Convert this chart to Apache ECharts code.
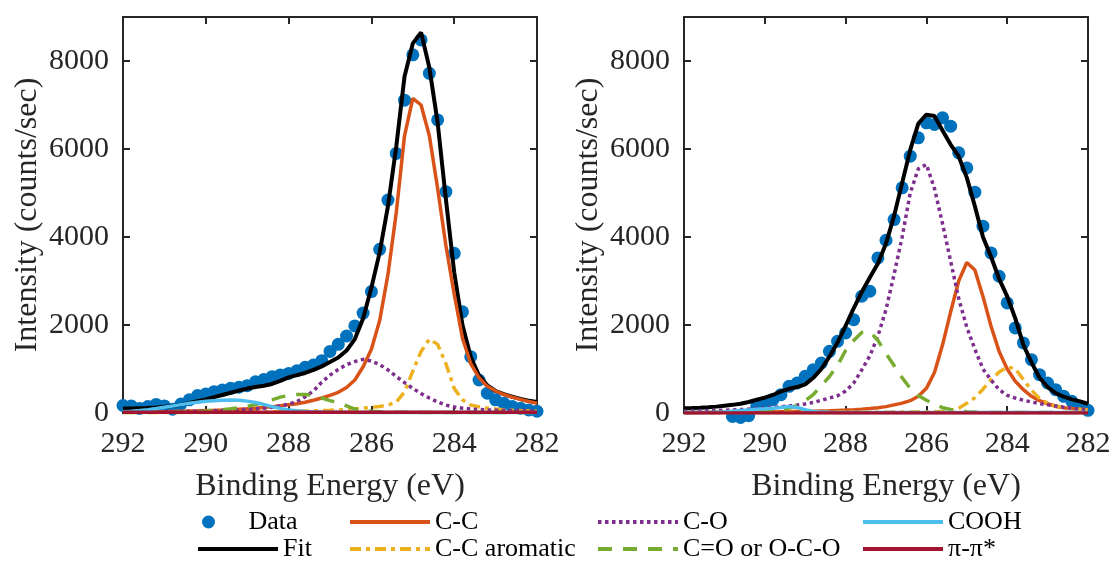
<!DOCTYPE html>
<html><head><meta charset="utf-8">
<script src="https://cdn.jsdelivr.net/npm/echarts@6/dist/echarts.min.js"></script>
<style>html,body{margin:0;padding:0;background:#fff}#c{width:1114px;height:563px}</style>
</head><body><div id="c"></div>
<script>
// Binding energy grid (eV)
const energy = [292.0,291.8,291.6,291.4,291.2,291.0,290.8,290.6,290.4,290.2,290.0,289.8,289.6,289.4,289.2,289.0,288.8,288.6,288.4,288.2,288.0,287.8,287.6,287.4,287.2,287.0,286.8,286.6,286.4,286.2,286.0,285.8,285.6,285.4,285.2,285.0,284.8,284.6,284.4,284.2,284.0,283.8,283.6,283.4,283.2,283.0,282.8,282.6,282.4,282.2,282.0];
const xTicks = [292,290,288,286,284,282];
const yTicks = [0,2000,4000,6000,8000];

// Left panel
const leftData  = [170,160,105,145,195,160,85,205,300,395,430,485,520,560,585,620,710,760,825,865,900,960,1040,1090,1190,1400,1560,1750,1980,2270,2760,3720,4840,5900,7110,8140,8480,7720,6660,5030,3630,2300,1280,750,450,300,220,150,110,70,40];
const leftFit   = [100,105,110,115,125,140,160,190,230,270,310,360,410,460,510,555,590,620,660,730,810,860,910,980,1060,1160,1260,1420,1680,2150,2850,3650,4700,6050,7650,8400,8650,7850,6600,4850,3200,2000,1270,850,630,500,430,370,320,280,250];
const leftCC    = [15,18,21,24,27,30,35,40,45,50,57,63,70,78,88,98,110,125,145,165,190,210,245,290,340,400,470,580,750,1050,1450,2100,3150,4550,6300,7150,7000,6300,5100,3800,2700,1700,1120,800,610,500,420,360,310,260,220];
const leftArom  = [10,10,10,10,10,10,10,12,12,12,14,14,15,16,18,20,22,25,28,32,36,40,45,50,56,62,70,80,95,110,130,150,180,250,480,950,1400,1680,1560,1120,560,300,180,140,110,90,75,65,55,50,45];
const leftCO    = [20,20,22,24,26,28,30,33,36,40,45,50,55,62,70,80,95,110,130,160,200,260,370,500,700,860,990,1100,1170,1220,1180,1100,980,830,690,560,440,340,250,180,135,110,90,80,70,65,62,58,55,53,50];
const leftCdO   = [10,10,12,13,15,17,20,24,28,35,45,60,75,95,120,150,190,240,300,360,400,420,420,400,340,280,230,160,90,60,40,30,22,18,15,13,12,11,11,10,10,10,10,10,10,10,10,10,10,10,10];
const leftCOOH  = [30,40,55,75,100,130,160,190,220,245,265,280,290,295,290,270,240,195,145,105,70,50,35,25,20,18,16,15,14,13,12,12,11,11,11,10,10,10,10,10,10,10,10,10,10,10,10,10,10,10,10];
const leftPi    = [15,15,15,15,15,15,15,15,15,15,15,15,15,15,15,15,15,15,15,15,15,15,15,15,15,15,15,15,15,15,15,15,15,15,15,15,15,15,15,15,15,15,15,15,15,15,15,15,15,15,15];

// Right panel
const rightData = [null,null,null,null,null,null,-80,-100,-60,150,227,303,417,606,682,834,985,1137,1402,1630,1819,2122,2653,2767,3525,3926,4396,5117,5837,6254,6595,6557,6708,6519,5912,5571,5018,4245,3638,3108,2501,1933,1592,1213,872,682,530,379,265,152,61];
const rightFit  = [110,115,122,130,145,165,185,210,250,300,350,410,490,550,590,650,800,1000,1280,1600,1980,2380,2750,3080,3400,3850,4480,5230,5980,6580,6780,6750,6420,6100,5830,5350,4700,4000,3550,3050,2650,2150,1550,1150,800,590,450,370,310,265,210];
const rightCC   = [12,13,14,15,16,17,18,20,22,24,26,28,30,32,34,36,40,45,50,58,66,76,88,102,120,145,185,225,280,380,560,920,1550,2300,3000,3420,3250,2650,1970,1400,1000,720,530,380,280,210,150,120,100,85,75];
const rightArom = [10,10,10,10,10,10,10,10,10,10,11,11,11,12,12,12,13,13,14,14,15,15,16,17,18,19,20,20,20,22,25,30,40,60,110,220,350,540,757,930,1045,1010,760,520,330,220,160,125,100,85,75];
const rightCO   = [40,45,48,52,58,64,70,78,88,100,112,125,140,160,180,205,240,290,340,390,500,680,980,1300,1750,2350,3150,4000,5000,5550,5650,5100,4300,3450,2600,1950,1450,1000,750,530,400,340,290,250,215,185,160,130,110,90,75];
const rightCdO  = [10,11,12,13,14,16,18,21,25,32,42,55,75,110,170,280,420,620,830,1080,1420,1650,1830,1850,1650,1350,1080,800,560,400,290,200,120,80,50,30,20,15,13,12,11,10,10,10,10,10,10,10,10,10,10];
const rightCOOH = [10,10,11,12,15,25,40,55,70,85,95,108,125,148,125,75,35,20,15,13,12,12,11,11,11,10,10,10,10,10,10,10,10,10,10,10,10,10,10,10,10,10,10,10,10,10,10,10,10,10,10];
const rightPi   = [0,0,0,0,0,0,0,0,0,0,0,0,0,0,0,0,0,0,0,0,0,0,0,0,0,0,0,0,0,0,0,0,0,0,0,0,0,0,0,0,0,0,0,0,0,0,0,0,0,0,0];

const names = ['Data','Fit','C-C','C-C aromatic','C-O','C=O or O-C-O','COOH','\u03C0-\u03C0*'];
const colors = ['#0072BD','#000000','#D95319','#EDB120','#7E2F8E','#77AC30','#4DBEEE','#A2142F'];
const dashes = [null,'solid','solid',[11,5,4,5],[3.5,3.5],[14,11],'solid','solid'];
const widths = [0,4,3.5,3.5,3.5,3.5,3.5,3.5];

const FONT = 'Liberation Serif';
const AX = '#262626';

function pairs(vals){ return energy.map((e,i)=> [e, vals[i]]); }

function xAxes(g){
  const base = {gridIndex:g,type:'value',min:282,max:292,interval:2,inverse:true,
    axisLine:{onZero:false,lineStyle:{color:AX,width:2}},
    axisTick:{inside:true,length:7,lineStyle:{color:AX,width:2}},
    splitLine:{show:false}};
  return [
    Object.assign({},base,{position:'bottom',
      axisLabel:{margin:16,fontSize:30,fontFamily:FONT,color:AX,formatter:v=>String(v)},
      name:'Binding Energy (eV)',nameLocation:'middle',nameGap:58,
      nameTextStyle:{fontSize:32,fontFamily:FONT,color:AX}}),
    Object.assign({},base,{position:'top',axisLabel:{show:false}})
  ];
}
function yAxes(g){
  const base = {gridIndex:g,type:'value',min:0,max:9000,interval:2000,
    axisLine:{onZero:false,lineStyle:{color:AX,width:2}},
    axisTick:{inside:true,length:7,lineStyle:{color:AX,width:2}},
    splitLine:{show:false}};
  return [
    Object.assign({},base,{position:'left',
      axisLabel:{margin:14,fontSize:30,fontFamily:FONT,color:AX,showMaxLabel:false,formatter:v=>String(v)},
      name:'Intensity (counts/sec)',nameLocation:'middle',nameGap:79,
      nameTextStyle:{fontSize:32,fontFamily:FONT,color:AX}}),
    Object.assign({},base,{position:'right',axisLabel:{show:false}})
  ];
}

function panelSeries(g, arrs){
  const out = [];
  out.push({name:names[0],type:'scatter',xAxisIndex:2*g,yAxisIndex:2*g,clip:false,
    symbol:'circle',symbolSize:13,itemStyle:{color:colors[0],opacity:1},data:pairs(arrs[0]),z:2});
  for(let k=1;k<8;k++){
    out.push({name:names[k],type:'line',xAxisIndex:2*g,yAxisIndex:2*g,symbol:'none',showSymbol:false,
      lineStyle:{color:colors[k],width:widths[k],type:dashes[k]},itemStyle:{color:colors[k]},
      data:pairs(arrs[k]),z:3+k});
  }
  return out;
}

const leftSets = [leftData,leftFit,leftCC,leftArom,leftCO,leftCdO,leftCOOH,leftPi];
const rightSets = [rightData,rightFit,rightCC,rightArom,rightCO,rightCdO,rightCOOH,rightPi];

const legendPos = [
  {n:0,left:202,top:509,w:70},
  {n:1,left:196,top:536,w:80},
  {n:2,left:348,top:509,w:80},
  {n:3,left:348,top:536,w:80},
  {n:4,left:596,top:509,w:80},
  {n:5,left:596,top:536,w:80},
  {n:6,left:861,top:509,w:80},
  {n:7,left:861,top:536,w:80}
];
const legends = legendPos.map(p=>{
  const L = {data:[names[p.n]],left:p.left,top:p.top,padding:0,itemWidth:p.w,itemHeight:13,
    textStyle:{fontSize:26,fontFamily:FONT,color:'#000'},selectedMode:false};
  if(p.n!==0){
    L.itemStyle = {opacity:0,color:'rgba(0,0,0,0)',borderWidth:0};
    L.lineStyle = {width:4,color:colors[p.n],type:dashes[p.n]};
  } else { L.itemStyle = {opacity:1}; }
  return L;
});

const chart = echarts.init(document.getElementById('c'),null,{renderer:'canvas'});
chart.setOption({
  animation:false,
  backgroundColor:'#fff',
  grid:[{left:123,top:17,width:414,height:396},{left:684,top:17,width:404,height:396}],
  xAxis:[...xAxes(0),...xAxes(1)],
  yAxis:[...yAxes(0),...yAxes(1)],
  legend:legends,
  series:[...panelSeries(0,leftSets),...panelSeries(1,rightSets)]
});
</script>
</body></html>
